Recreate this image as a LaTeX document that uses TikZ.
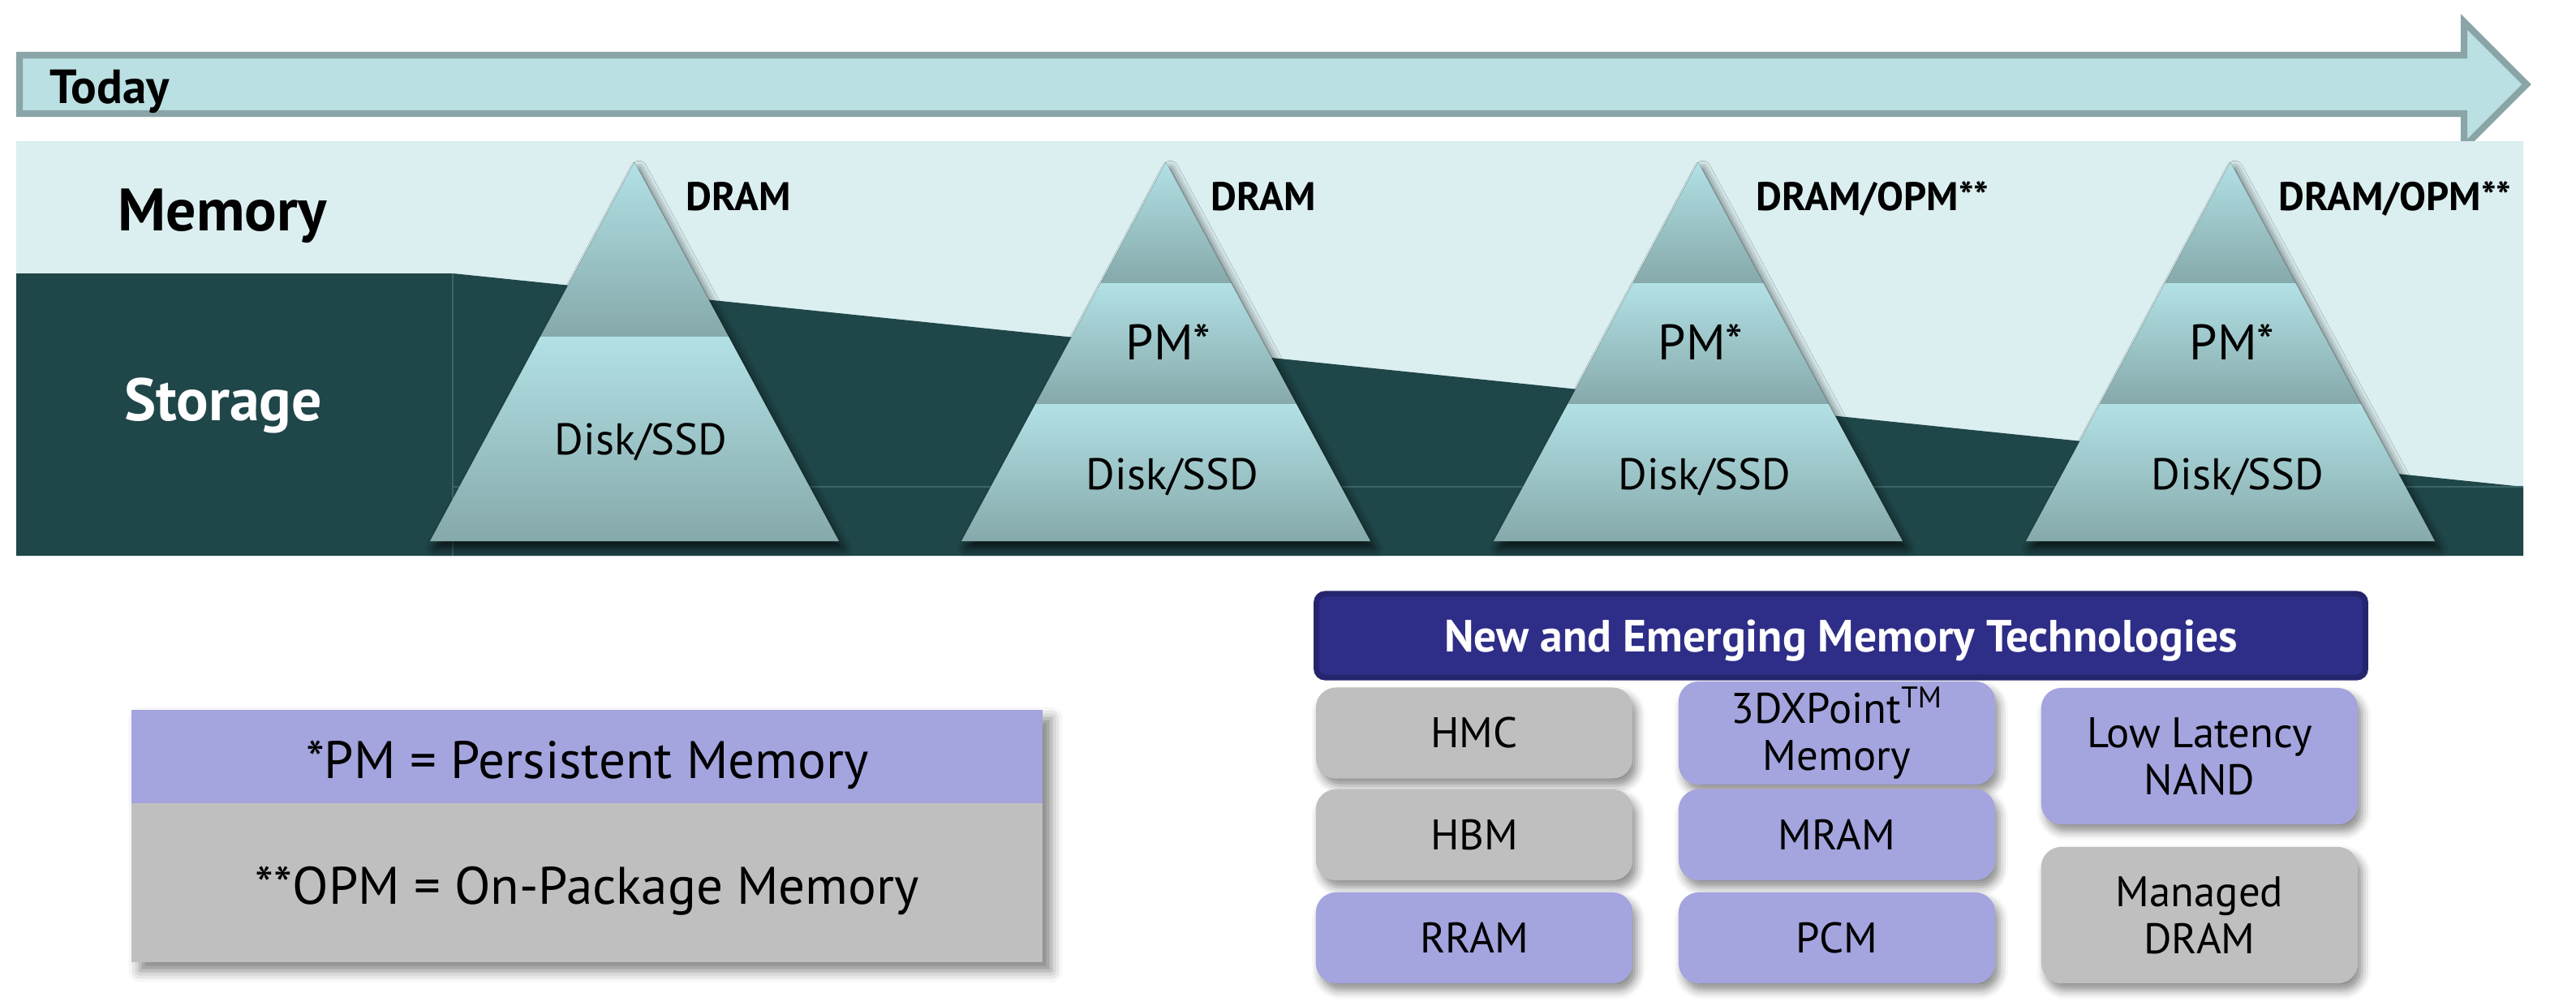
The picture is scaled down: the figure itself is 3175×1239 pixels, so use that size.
\documentclass[tikz,border=0pt]{standalone}
\usepackage{fontspec}
\setmainfont{PT Sans}
\usetikzlibrary{shadows.blur}
\definecolor{memband}{HTML}{DBEEF0}
\definecolor{stoband}{HTML}{1F4649}
\definecolor{stoline}{HTML}{3C6669}
\definecolor{arrfill}{HTML}{BAE0E3}
\definecolor{arrline}{HTML}{8AA5A7}
\definecolor{pyrtop}{HTML}{B2E1E5}
\definecolor{pyrbot}{HTML}{86A9AB}
\definecolor{lav}{HTML}{A4A4DF}
\definecolor{grayb}{HTML}{BFBFBF}
\definecolor{navy}{HTML}{2E2E88}
\definecolor{navyline}{HTML}{25256E}
\newcommand\pyrsec[3]{%
  \fill[top color=pyrtop,bottom color=pyrbot]
    ({#1-0.5396*(#2-200)},#2) -- ({#1+0.5396*(#2-200)},#2) --
    ({#1+0.5396*(#3-200)},#3) -- ({#1-0.5396*(#3-200)},#3) -- cycle;}
\newcommand\pyrshadow[1]{%
  \fill[pyrbot,blur shadow={shadow xshift=1.5pt,shadow yshift=-2.5pt,shadow blur radius=3pt,shadow opacity=70}]
    (#1,200) -- ({#1+252},667) -- ({#1-252},667) -- cycle;}
\tikzset{
  lbl/.style={anchor=base,inner sep=0pt,font=\fontsize{15.5}{18}\selectfont},
  pmlbl/.style={anchor=base,inner sep=0pt,font=\fontsize{17.5}{20}\selectfont},
  lblb/.style={anchor=base,inner sep=0pt,font=\bfseries\fontsize{14}{16}\selectfont},
  side/.style={anchor=base,inner sep=0pt,font=\bfseries\fontsize{21}{24}\selectfont},
  legtxt/.style={anchor=base,inner sep=0pt,font=\fontsize{18.5}{21}\selectfont},
  techbox/.style={rounded corners=7pt,minimum width=3.9cm,minimum height=1.12cm,
    align=center,inner sep=2pt,font=\fontsize{15}{16.5}\selectfont,
    blur shadow={shadow xshift=1.5pt,shadow yshift=-2.5pt,shadow blur radius=3pt,shadow opacity=45}},
  graybox/.style={techbox,fill=grayb},
  lavbox/.style={techbox,fill=lav},
}
\begin{document}
\begin{tikzpicture}[x=0.01cm,y=-0.01cm]
\useasboundingbox (0,0) rectangle (3175,1239);
% timeline arrow
\draw[arrline,fill=arrfill,line width=2.3pt,line join=miter]
  (24,68) -- (3037,68) -- (3037,27) -- (3114,104) -- (3037,181) -- (3037,140) -- (24,140) -- cycle;
\node[anchor=base west,inner sep=0pt,font=\bfseries\fontsize{16.8}{19}\selectfont] (today) at (61,127) {Today};
% band
\fill[memband] (20,174) rectangle (3110,685);
\fill[stoband] (20,337) -- (558,337) -- (3110,600) -- (3110,685) -- (20,685) -- cycle;
\draw[stoline,line width=0.5pt] (558,337) -- (558,685);
\draw[stoline,line width=0.5pt] (558,600) -- (3110,600);
\node[side] (mem) at (274,284) {Memory};
\node[side,white] (sto) at (275,518) {Storage};
% pyramids
\pyrshadow{782}
\pyrsec{782}{200}{415}
\pyrsec{782}{415}{667}
\foreach \c in {1437,2093,2749}{
  \pyrshadow{\c}
  \pyrsec{\c}{200}{349}
  \pyrsec{\c}{349}{498}
  \pyrsec{\c}{498}{667}
}
\node[lblb] (d1) at (910,259) {DRAM};
\node[lblb] (d2) at (1557,259) {DRAM};
\node[lblb] (d3) at (2308,259) {DRAM/OPM**};
\node[lblb] (d4) at (2952,259) {DRAM/OPM**};
\node[lbl] (s1) at (790,560) {Disk/SSD};
\node[pmlbl] (p2) at (1440,443) {PM*};
\node[lbl] (s2) at (1445,603) {Disk/SSD};
\node[pmlbl] (p3) at (2096,443) {PM*};
\node[lbl] (s3) at (2101,603) {Disk/SSD};
\node[pmlbl] (p4) at (2751,443) {PM*};
\node[lbl] (s4) at (2758,603) {Disk/SSD};
% legend
\fill[grayb,blur shadow={shadow xshift=3pt,shadow yshift=-3pt,shadow blur radius=4pt,shadow opacity=50}] (162,875) rectangle (1285,1186);
\fill[lav] (162,875) rectangle (1285,990);
\node[legtxt] (pmdef) at (724,959) {*PM = Persistent Memory};
\node[legtxt] (opmdef) at (724,1114) {**OPM = On-Package Memory};
% technologies
\node[rounded corners=3pt,fill=navy,draw=navyline,line width=2pt,minimum width=12.92cm,minimum height=1.03cm,
  text=white,font=\bfseries\fontsize{15.8}{18}\selectfont] (hdr) at (2269,783.5) {};
\node[anchor=base,inner sep=0pt,text=white,font=\bfseries\fontsize{15.8}{18}\selectfont] (hdrtxt) at (2269,803) {New and Emerging Memory Technologies};
\node[graybox] (hmc) at (1817,903.5) {HMC};
\node[graybox] (hbm) at (1817,1029) {HBM};
\node[lavbox] (rram) at (1817,1156) {RRAM};
\node[lavbox] (xp) at (2264,903.5) {3DXPoint\textsuperscript{TM}\\Memory};
\node[lavbox] (mram) at (2264,1029) {MRAM};
\node[lavbox] (pcm) at (2264,1156) {PCM};
\node[lavbox,minimum height=1.68cm] (lln) at (2711,932) {Low Latency\\NAND};
\node[graybox,minimum height=1.68cm] (mdram) at (2711,1128) {Managed\\DRAM};
\end{tikzpicture}
\end{document}
